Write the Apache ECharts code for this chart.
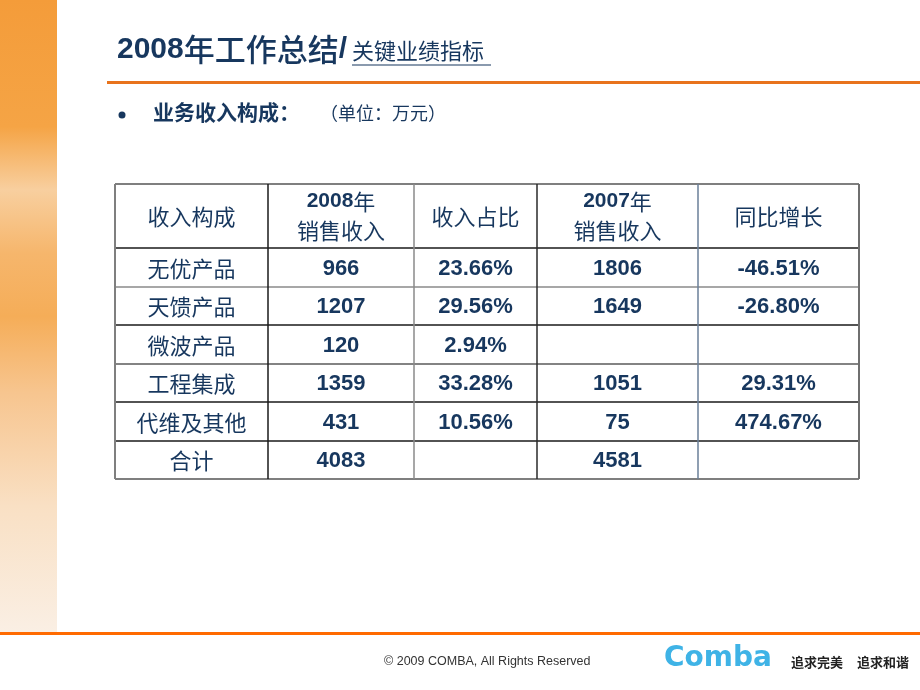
<!DOCTYPE html>
<html>
<head>
<meta charset="utf-8">
<script src="https://cdn.jsdelivr.net/npm/echarts@6/dist/echarts.min.js"></script>
<style>
html, body { margin: 0; padding: 0; background: #fff; }
#main { width: 920px; height: 690px; }
</style>
</head>
<body>
<div id="main"></div>
<script>
// table content
var headers = ['收入构成', '2008年\n销售收入', '收入占比', '2007年\n销售收入', '同比增长'];
var categories = ['无优产品', '天馈产品', '微波产品', '工程集成', '代维及其他', '合计'];
var sales2008 = ['966', '1207', '120', '1359', '431', '4083'];
var share2008 = ['23.66%', '29.56%', '2.94%', '33.28%', '10.56%', ''];
var sales2007 = ['1806', '1649', '', '1051', '75', '4581'];
var growth = ['-46.51%', '-26.80%', '', '29.31%', '474.67%', ''];

// table geometry (px, relative to the grid)
var colEdges = [0, 153, 299, 422, 583, 744];
var rowEdges = [0, 64, 103, 141, 180, 218, 257, 295];
var navy = '#17375e';
var cjk = '"Noto Sans CJK SC", sans-serif';
var latin = '"Liberation Sans", Arial, "Noto Sans CJK SC", sans-serif';

var cells = [];
headers.forEach(function (h, c) {
    cells.push({ c: c, r: 0, text: h });
});
categories.forEach(function (name, i) {
    var row = [name, sales2008[i], share2008[i], sales2007[i], growth[i]];
    row.forEach(function (t, c) {
        if (t !== '') cells.push({ c: c, r: i + 1, text: t });
    });
});

var hColors = ['#7f7f7f', '#1a1a1a', '#8a8a8a', '#1a1a1a', '#5a5a5a', '#1a1a1a', '#1a1a1a', '#7f7f7f'];
var vColors = ['#7f7f7f', '#1a1a1a', '#8a8a8a', '#2a2a2a', '#6a7f99', '#6f6f6f'];
var lines = [];
rowEdges.forEach(function (y, i) {
    lines.push({ a: [0, y], b: [744, y], color: hColors[i], w: (i === 0 || i === rowEdges.length - 1) ? 2 : 1.5 });
});
colEdges.forEach(function (x, i) {
    lines.push({ a: [x, 0], b: [x, 295], color: vColors[i], w: (i === 0 || i === colEdges.length - 1) ? 2 : 1.5 });
});

var chart = echarts.init(document.getElementById('main'));

chart.setOption({
    backgroundColor: '#fff',
    animation: false,
    grid: { left: 115, top: 184, width: 744, height: 295 },
    xAxis: { type: 'value', min: 0, max: 744, show: false },
    yAxis: { type: 'value', min: 0, max: 295, inverse: true, show: false },
    graphic: [
        // left decorative stripe
        {
            type: 'rect', left: 0, top: 0, shape: { width: 57, height: 633 },
            style: {
                fill: new echarts.graphic.LinearGradient(0, 0, 0, 1, [
                    { offset: 0, color: '#f49c3a' },
                    { offset: 0.2, color: '#f5a445' },
                    { offset: 0.3, color: '#f8cf9f' },
                    { offset: 0.4, color: '#f6b66c' },
                    { offset: 0.5, color: '#f5ad58' },
                    { offset: 0.62, color: '#f7c58f' },
                    { offset: 0.8, color: '#f9e0c4' },
                    { offset: 1, color: '#faefe4' }
                ])
            },
            z: 0
        },
        // title
        {
            type: 'text', left: 117, top: 34, z: 10,
            style: {
                text: '{a|2008}{b|年工作总结}{a|/}',
                rich: {
                    a: { font: 'bold 30px ' + latin, fill: navy },
                    b: { font: '500 31px ' + cjk, fill: navy }
                },
                shadowColor: 'rgba(0,0,0,0.25)', shadowOffsetX: 1, shadowOffsetY: 1, shadowBlur: 1
            }
        },
        {
            type: 'text', left: 352, top: 40, z: 10,
            style: { text: '关键业绩指标', font: '22px ' + cjk, fill: navy }
        },
        { type: 'line', shape: { x1: 352, y1: 65, x2: 491, y2: 65 }, style: { stroke: navy, lineWidth: 1.2 }, z: 10 },
        // title rule
        { type: 'rect', shape: { x: 107, y: 81, width: 813, height: 3 }, style: { fill: '#e8731c' }, z: 5 },
        // subtitle
        { type: 'circle', shape: { cx: 122, cy: 115, r: 3.5 }, style: { fill: navy }, z: 10 },
        {
            type: 'text', left: 153, top: 102, z: 10,
            style: { text: '业务收入构成：', font: 'bold 21px ' + cjk, fill: navy }
        },
        {
            type: 'text', left: 320, top: 104, z: 10,
            style: { text: '（单位：万元）', font: '18px ' + cjk, fill: navy }
        },
        // footer
        { type: 'rect', shape: { x: 0, y: 632, width: 920, height: 3 }, style: { fill: '#ff6a00' }, z: 5 },
        {
            type: 'text', left: 384, top: 655, z: 10,
            style: { text: '© 2009 COMBA, All Rights Reserved', font: '12.5px ' + latin, fill: '#333' }
        },
        {
            type: 'text', left: 664, top: 645, z: 10,
            style: { text: 'Comba', font: 'bold 28px "DejaVu Sans", sans-serif', fill: '#3fb3e6' }
        },
        {
            type: 'text', left: 791, top: 656, z: 10,
            style: { text: '追求完美', font: 'bold 13px ' + cjk, fill: '#222' }
        },
        {
            type: 'text', left: 857, top: 656, z: 10,
            style: { text: '追求和谐', font: 'bold 13px ' + cjk, fill: '#222' }
        }
    ],
    series: [
        {
            type: 'custom',
            silent: true,
            z: 3,
            data: lines.map(function (l) { return [l.a[0], l.a[1]]; }),
            renderItem: function (params, api) {
                var l = lines[params.dataIndex];
                var p1 = api.coord(l.a);
                var p2 = api.coord(l.b);
                return {
                    type: 'line',
                    shape: { x1: p1[0], y1: p1[1], x2: p2[0], y2: p2[1] },
                    style: { stroke: l.color, lineWidth: l.w }
                };
            }
        },
        {
            type: 'custom',
            silent: true,
            z: 4,
            data: cells.map(function (cell) { return [cell.c, cell.r]; }),
            renderItem: function (params, api) {
                var cell = cells[params.dataIndex];
                var c = api.value(0), r = api.value(1);
                var p = api.coord([(colEdges[c] + colEdges[c + 1]) / 2, (rowEdges[r] + rowEdges[r + 1]) / 2]);
                var isNum = /^[-0-9]/.test(cell.text);
                var font;
                if (r === 0 && cell.text.indexOf('\n') >= 0) {
                    return {
                        type: 'text',
                        x: p[0], y: p[1],
                        style: {
                            text: '{n|' + cell.text.split('\n')[0].replace('年', '') + '}{h|年}\n{h|' + cell.text.split('\n')[1] + '}',
                            rich: {
                                n: { font: 'bold 21px ' + latin, fill: navy, lineHeight: 29 },
                                h: { font: '22px ' + cjk, fill: navy, lineHeight: 29 }
                            },
                            align: 'center', verticalAlign: 'middle'
                        }
                    };
                }
                font = isNum ? 'bold 22px ' + latin : '22px ' + cjk;
                return {
                    type: 'text',
                    x: p[0], y: p[1] + 1,
                    style: { text: cell.text, font: font, fill: navy, align: 'center', verticalAlign: 'middle' }
                };
            }
        }
    ]
});
</script>
</body>
</html>
